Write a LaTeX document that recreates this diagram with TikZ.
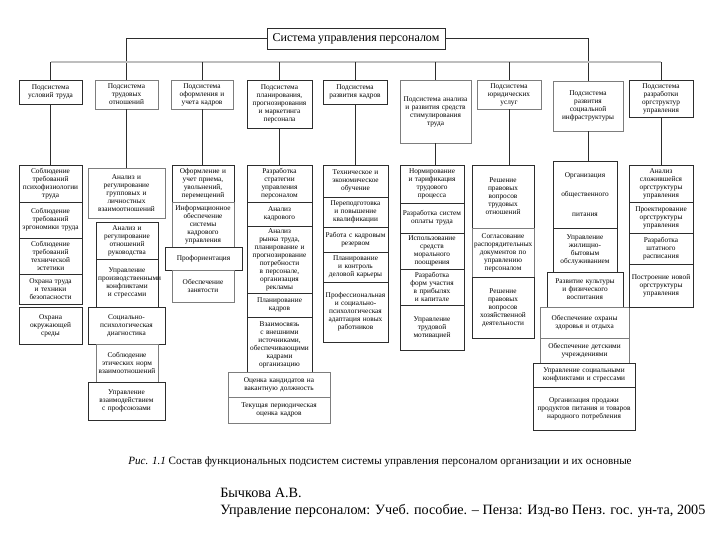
\documentclass[tikz,border=0pt]{standalone}
\usepackage{fontspec}
\setmainfont{Liberation Serif}
\usepackage{tikz}
\definecolor{figline}{RGB}{45,45,45}
\definecolor{figsoft}{RGB}{125,125,125}
\definecolor{figbus}{RGB}{190,190,190}
\tikzset{
  fb/.style  ={draw=figline, line width=0.5pt, align=center, inner xsep=1.5pt, inner ysep=0.3pt, font=\fontsize{5.2}{5.7}\selectfont},
  fbs/.style ={fb, draw=figsoft},
  ln/.style  ={draw=figline, line width=0.6pt},
  bus/.style ={draw=figbus, line width=1.1pt},
}
% box between two corners, given in pixels
\newcommand{\cell}[7][fb]{%
  \pgfmathsetlengthmacro{\cellw}{(#5-#3)*0.025cm}%
  \pgfmathsetlengthmacro{\cellh}{(#6-#4)*0.025cm}%
  \pgfmathsetlengthmacro{\cellt}{(#5-#3)*0.025cm-3pt}%
  \node[#1, minimum width=\cellw, minimum height=\cellh, text width=\cellt] (#2) at ({(#3+#5)/2},{(#4+#6)/2}) {#7};}

\begin{document}
\begin{tikzpicture}[x=0.025cm, y=-0.025cm]
  \fill[white] (0,0) rectangle (720,540);
  \useasboundingbox (0,0) rectangle (720,540);
  % head
  \cell{title}{267}{28}{445}{49}{\fontsize{8.5}{10}\selectfont Система управления персоналом}
  % subsystems
  \cell{s1}{19}{80}{82}{104}{Подсистема условий труда}
  \cell[fbs]{s2}{95}{80}{158}{109}{Подсистема трудовых отношений}
  \cell[fbs]{s3}{171}{80}{233}{109}{Подсистема оформления и учета кадров}
  \cell{s4}{247}{80}{312}{128}{Подсистема планирования, прогнозирования и маркетинга персонала}
  \cell{s5}{323}{80}{387}{104}{Подсистема развития кадров}
  \cell[fbs]{s6}{400}{80}{471}{143}{Подсистема анализа и развития средств стимулирования труда}
  \cell[fbs]{s7}{477}{80}{541}{109}{Подсистема юридических услуг}
  \cell[fbs]{s8}{553}{81}{623}{131}{Подсистема развития социальной инфраструктуры}
  \cell{s9}{629}{80}{693}{117}{Подсистема разработки оргструктур управления}
  % column 1
  \cell{c1a}{19}{165}{82}{202}{Соблюдение требований психофизиологии труда}
  \cell{c1b}{19}{202}{82}{238}{Соблюдение требований эргономики труда}
  \cell{c1c}{19}{238}{82}{274}{Соблюдение требований технической эстетики}
  \cell{c1d}{19}{274}{82}{304}{Охрана труда и техники безопасности}
  \cell{c1e}{19}{307}{82}{344}{Охрана окружающей среды}
  % column 2
  \cell[fbs]{c2a}{88}{168}{165}{218}{Анализ и регулирование групповых и личностных взаимоотношений}
  \cell{c2b}{96}{222}{158}{259}{Анализ и регулирование отношений руководства}
  \cell{c2c}{96}{259}{158}{307}{Управление производственными конфликтами и стрессами}
  \cell{c2d}{88}{307}{165}{344}{Социально-психологическая диагностика}
  \cell[fbs]{c2e}{96}{344}{158}{382}{Соблюдение этических норм взаимоотношений}
  \cell{c2f}{88}{382}{165}{420}{Управление взаимодействием с профсоюзами}
  % column 3
  \cell{c3a}{172}{165}{234}{202}{Оформление и учет приема, увольнений, перемещений}
  \cell[fbs]{c3b}{172}{202}{234}{247}{Информационное обеспечение системы кадрового управления}
  \cell{c3c}{165}{247}{242}{270}{Профориентация}
  \cell[fbs]{c3d}{172}{270}{234}{302}{Обеспечение занятости}
  % column 4
  \cell{c4a}{247}{165}{312}{202}{Разработка стратегии управления персоналом}
  \cell{c4b}{247}{202}{312}{226}{Анализ\\кадрового}
  \cell{c4c}{247}{226}{312}{293}{Анализ рынка труда, планирование и прогнозирование потребности в персонале, организация рекламы}
  \cell{c4d}{247}{293}{312}{317}{Планирование кадров}
  \cell{c4e}{247}{317}{312}{372}{Взаимосвязь с внешними источниками, обеспечивающими кадрами организацию}
  \cell[fbs]{c4f}{228}{372}{330}{397}{Оценка кандидатов на вакантную должность}
  \cell[fbs]{c4g}{228}{397}{330}{423}{Текущая периодическая оценка кадров}
  % column 5
  \cell{c5a}{323}{165}{388}{197}{Техническое и экономическое обучение}
  \cell{c5b}{323}{197}{388}{227}{Переподготовка и повышение квалификации}
  \cell{c5c}{323}{227}{388}{252}{Работа с кадровым резервом}
  \cell{c5d}{323}{252}{388}{282}{Планирование и контроль деловой карьеры}
  \cell{c5e}{323}{282}{388}{342}{Профессиональная и социально-психологическая адаптация новых работников}
  % column 6
  \cell{c6a}{400}{165}{464}{203}{Нормирование и тарификация трудового процесса}
  \cell{c6b}{400}{203}{464}{233}{Разработка систем оплаты труда}
  \cell{c6c}{400}{233}{464}{269}{Использование средств морального поощрения}
  \cell{c6d}{400}{269}{464}{305}{Разработка форм участия в прибылях и капитале}
  \cell{c6e}{400}{305}{464}{350}{Управление трудовой мотивацией\\[12pt]}
  % column 7
  \cell{c7a}{472}{165}{534}{228}{Решение правовых вопросов трудовых отношений\\[14pt]}
  \cell[fbs]{c7b}{472}{228}{534}{277}{Согласование распорядительных документов по управлению персоналом}
  \cell{c7c}{472}{277}{534}{338}{Решение правовых вопросов хозяйственной деятельности\\[6pt]}
  % column 8
  \cell{c8a}{553}{161}{617}{228}{Организация\\[8pt]общественного\\[8pt]питания}
  \cell{c8b}{553}{228}{617}{272}{Управление жилищно-бытовым обслуживанием}
  \cell{c8c}{547}{272}{623}{307}{Развитие культуры и физического воспитания}
  \cell[fbs]{c8d}{540}{307}{629}{338}{Обеспечение охраны здоровья и отдыха}
  \cell[fbs]{c8e}{540}{338}{629}{363}{Обеспечение детскими учреждениями}
  \cell{c8f}{533}{363}{635}{387}{Управление социальными конфликтами и стрессами}
  \cell{c8g}{533}{387}{635}{430}{Организация продажи продуктов питания и товаров народного потребления}
  % column 9
  \cell{c9a}{629}{165}{693}{202}{Анализ сложившейся оргструктуры управления}
  \cell{c9b}{629}{202}{693}{233}{Проектирование оргструктуры управления}
  \cell{c9c}{629}{233}{693}{264}{Разработка штатного расписания}
  \cell{c9d}{629}{264}{693}{307}{Построение новой оргструктуры управления}
  % links
  \draw[ln] (title.west) -| (s2.north);
  \draw[ln] (title.east) -| (s8.north);
  \coordinate (bus) at (0,62);
  \draw[bus] (s1.north |- bus) -- (s9.north |- bus);
  \foreach \s in {s1,s3,s4,s5,s6,s7,s9}
    \draw[ln] (\s.north |- bus) -- (\s.north);
  \foreach \s/\c in {s1/c1a,s2/c2a,s3/c3a,s4/c4a,s5/c5a,s6/c6a,s7/c7a,s8/c8a,s9/c9a}
    \draw[ln] (\s.south) -- (\s.south |- \c.north);
  % caption
  \node[anchor=west, inner sep=0pt, font=\fontsize{7.9}{9}\selectfont] (cap) at (128,462)
    {\textit{Рис. 1.1} Состав функциональных подсистем системы управления персоналом организации и их основные};
  \node[anchor=west, inner sep=0pt, font=\fontsize{10.1}{12}\selectfont] (auth) at (220,493) {Бычкова А.В.};
  \node[anchor=west, inner sep=0pt, font=\fontsize{10.1}{12}\selectfont] (src) at (220,511)
    {Управление персоналом: Учеб. пособие. – Пенза: Изд-во Пенз. гос. ун-та, 2005};
\end{tikzpicture}
\end{document}
